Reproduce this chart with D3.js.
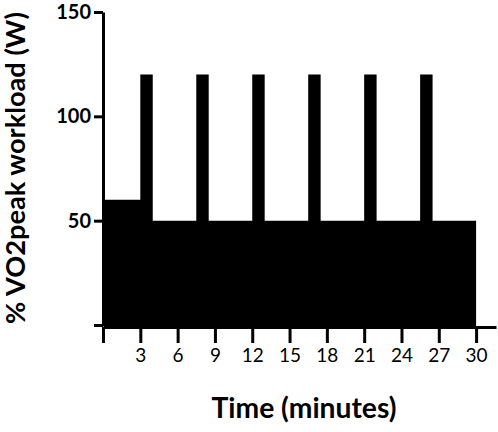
<!DOCTYPE html>
<html>
<head>
<meta charset="utf-8">
<script src="https://cdn.jsdelivr.net/npm/d3@7"></script>
<style>
  html, body { margin: 0; padding: 0; background: #fff; }
  svg { display: block; font-family: Lato, "Open Sans", sans-serif; }
</style>
</head>
<body>
<div id="chart"></div>
<script>
// step protocol: time (min) where each level starts, and the workload level
const STEP_TIMES = [0, 3, 4, 7.5, 8.5, 12, 13, 16.5, 17.5, 21, 22, 25.5, 26.5, 30];
const STEP_LEVELS = [60, 120, 50, 120, 50, 120, 50, 120, 50, 120, 50, 120, 50, 50];
const X_TICKS = [0, 3, 6, 9, 12, 15, 18, 21, 24, 27, 30];
const Y_TICKS = [0, 50, 100, 150];

const width = 498, height = 432;
const svg = d3.select("#chart").append("svg")
  .attr("width", width).attr("height", height);

const x = d3.scaleLinear().domain([0, 31.6]).range([103, 496]);
const y = d3.scaleLinear().domain([0, 150]).range([325, 12]);

const steps = STEP_TIMES.map((t, i) => ({ t, v: STEP_LEVELS[i] }));

const area = d3.area()
  .x((d) => x(d.t))
  .y0(y(0) + 1)
  .y1((d) => y(d.v))
  .curve(d3.curveStepAfter);

svg.append("path")
  .datum(steps)
  .attr("d", area)
  .attr("fill", "#000");

// y axis
svg.append("g")
  .attr("transform", "translate(103,0)")
  .call(d3.axisLeft(y).tickValues(Y_TICKS).tickSize(9).tickSizeOuter(0).tickPadding(3)
    .tickFormat((d) => (d === 0 ? "" : d)))
  .call((g) => g.select(".domain").attr("stroke-width", 3))
  .call((g) => g.selectAll(".tick line").attr("stroke-width", 3))
  .call((g) => g.selectAll("text")
    .attr("font-size", 20).attr("font-weight", "bold").attr("fill", "#000")
    .attr("font-family", "Lato, sans-serif"));

// x axis
svg.append("g")
  .attr("transform", "translate(0,327)")
  .call(d3.axisBottom(x).tickValues(X_TICKS).tickSize(16).tickSizeOuter(0).tickPadding(6)
    .tickFormat((d) => (d === 0 ? "" : d)))
  .call((g) => g.select(".domain").attr("stroke-width", 3))
  .call((g) => g.selectAll(".tick line").attr("stroke-width", 3))
  .call((g) => g.selectAll("text")
    .attr("font-size", 19).attr("fill", "#000")
    .attr("font-family", "Lato, sans-serif"));

// size a title so its length matches the reference
function fitText(sel, target) {
  const len = sel.node().getComputedTextLength();
  const fs = +sel.attr("font-size");
  sel.attr("font-size", Math.min(30, fs * target / len));
}

svg.append("text")
  .attr("x", 304).attr("y", 418)
  .attr("text-anchor", "middle")
  .attr("font-size", 22).attr("font-weight", "bold")
  .text("Time (minutes)")
  .call(fitText, 185);

svg.append("text")
  .attr("transform", "translate(25,168) rotate(-90)")
  .attr("text-anchor", "middle")
  .attr("font-size", 22).attr("font-weight", "bold")
  .text("% VO2peak workload (W)")
  .call(fitText, 312);
</script>
</body>
</html>
